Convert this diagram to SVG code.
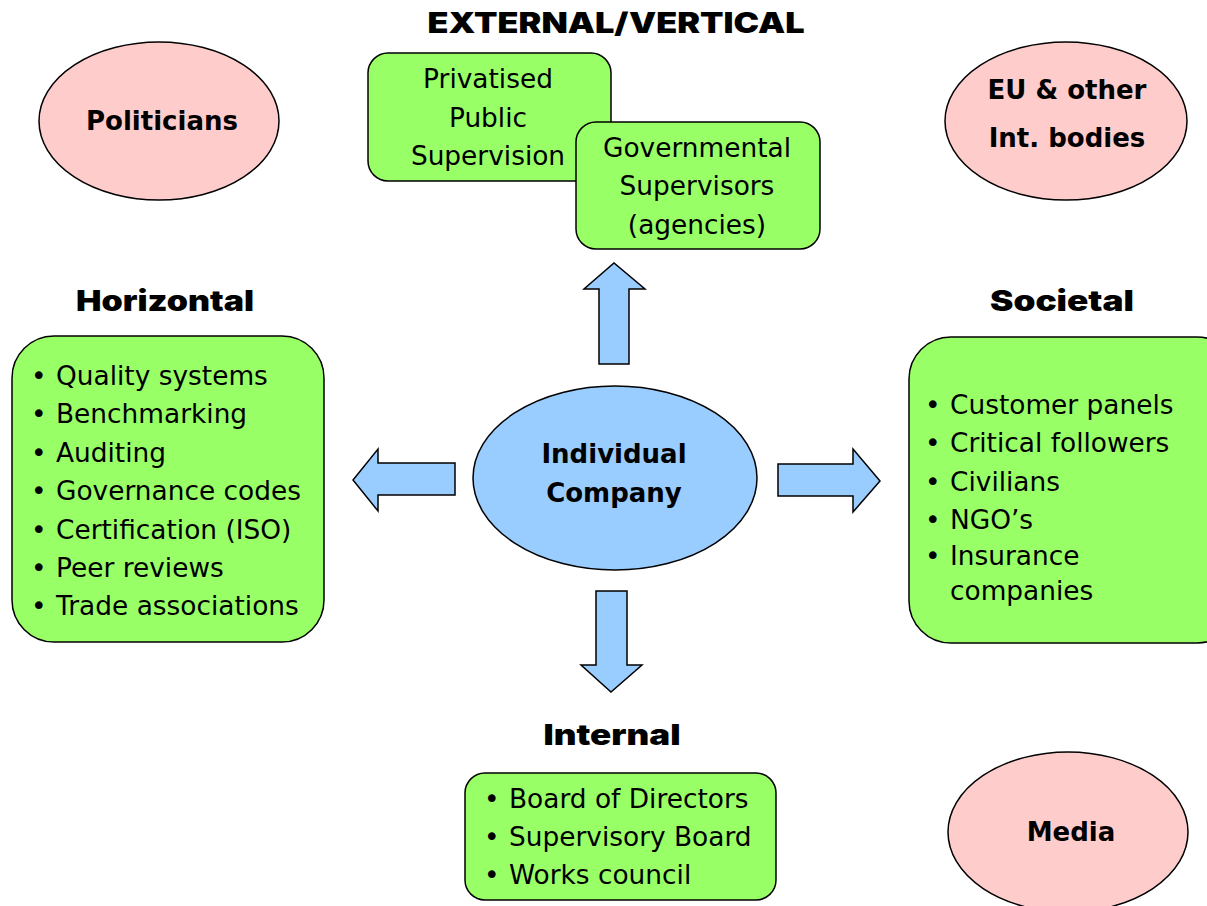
<svg xmlns="http://www.w3.org/2000/svg" width="1207" height="906" viewBox="0 0 1207 906">
<style>
.g{fill:#99FF66;stroke:#000;stroke-width:1.5}
.p{fill:#FFCCCC;stroke:#000;stroke-width:1.5}
.b{fill:#99CCFF;stroke:#000;stroke-width:1.5}
.t{font-family:"DejaVu Sans",Verdana,sans-serif;font-size:26.4px;fill:#000}
.c{text-anchor:middle}
.bd{font-family:"DejaVu Sans",Verdana,sans-serif;font-size:26px;font-weight:bold;fill:#000;text-anchor:middle}
.h{font-family:"Arial Black",Inter,"Liberation Sans",sans-serif;font-weight:900;font-size:28px;fill:#000;text-anchor:middle}
</style>
<rect width="1207" height="906" fill="#fff"/>
<g id="headings">
<text class="h" x="616" y="33" textLength="377" lengthAdjust="spacingAndGlyphs">EXTERNAL/VERTICAL</text>
<text class="h" x="165" y="311" textLength="178" lengthAdjust="spacingAndGlyphs">Horizontal</text>
<text class="h" x="1062" y="311" textLength="144" lengthAdjust="spacingAndGlyphs">Societal</text>
<text class="h" x="612" y="745" textLength="137" lengthAdjust="spacingAndGlyphs">Internal</text>
</g>
<g id="privatised">
<rect class="g" x="368" y="53" width="243" height="128" rx="20"/>
<text class="t c" x="488" y="88">Privatised</text>
<text class="t c" x="488" y="127">Public</text>
<text class="t c" x="488" y="165">Supervision</text>
</g>
<g id="governmental">
<rect class="g" x="576" y="122" width="244" height="127" rx="20"/>
<text class="t c" x="697" y="157">Governmental</text>
<text class="t c" x="697" y="195">Supervisors</text>
<text class="t c" x="697" y="234">(agencies)</text>
</g>
<g id="politicians">
<ellipse class="p" cx="159" cy="121" rx="120" ry="79"/>
<text class="bd" x="162" y="130">Politicians</text>
</g>
<g id="eu">
<ellipse class="p" cx="1066" cy="121" rx="121" ry="79"/>
<text class="bd" x="1067" y="99">EU &amp; other</text>
<text class="bd" x="1067" y="147">Int. bodies</text>
</g>
<g id="horizontal">
<rect class="g" x="12" y="336" width="312" height="306" rx="42"/>
<g class="t">
<text x="31" y="385">•</text><text x="56" y="385">Quality systems</text>
<text x="31" y="423">•</text><text x="56" y="423">Benchmarking</text>
<text x="31" y="462">•</text><text x="56" y="462">Auditing</text>
<text x="31" y="500">•</text><text x="56" y="500">Governance codes</text>
<text x="31" y="539">•</text><text x="56" y="539">Certification (ISO)</text>
<text x="31" y="577">•</text><text x="56" y="577">Peer reviews</text>
<text x="31" y="615">•</text><text x="56" y="615">Trade associations</text>
</g>
</g>
<g id="societal">
<rect class="g" x="909" y="337" width="330" height="306" rx="42"/>
<g class="t">
<text x="925" y="414">•</text><text x="950" y="414">Customer panels</text>
<text x="925" y="452">•</text><text x="950" y="452">Critical followers</text>
<text x="925" y="491">•</text><text x="950" y="491">Civilians</text>
<text x="925" y="529">•</text><text x="950" y="529">NGO’s</text>
<text x="925" y="565">•</text><text x="950" y="565">Insurance</text>
<text x="950" y="600">companies</text>
</g>
</g>
<g id="company">
<ellipse class="b" cx="615" cy="478" rx="142" ry="92"/>
<text class="bd" x="614" y="463">Individual</text>
<text class="bd" x="614" y="502">Company</text>
</g>
<g id="internal">
<rect class="g" x="465" y="773" width="311" height="127" rx="20"/>
<g class="t">
<text x="484" y="808">•</text><text x="509" y="808">Board of Directors</text>
<text x="484" y="846">•</text><text x="509" y="846">Supervisory Board</text>
<text x="484" y="884">•</text><text x="509" y="884">Works council</text>
</g>
</g>
<g id="media">
<ellipse class="p" cx="1068" cy="832" rx="120" ry="80"/>
<text class="bd" x="1071" y="841">Media</text>
</g>
<g id="connectors">
<polygon class="b" points="599,364 629,364 629,289 645,289 614,263 584,289 599,289"/>
<polygon class="b" points="596,591 627,591 627,665 642,665 611,692 581,665 596,665"/>
<polygon class="b" points="455,463 455,495 378,495 378,511 353,480 378,449 378,463"/>
<polygon class="b" points="778,464 778,496 853,496 853,512 880,481 853,449 853,464"/>
</g>
</svg>
